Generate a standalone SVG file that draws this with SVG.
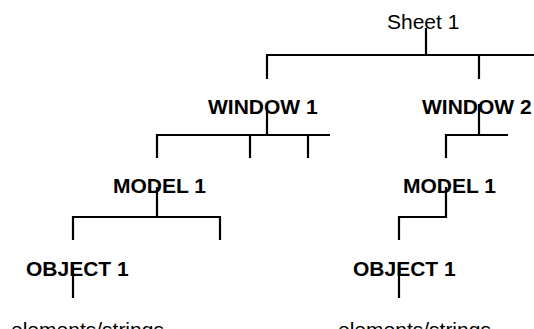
<svg xmlns="http://www.w3.org/2000/svg" width="534" height="329" viewBox="0 0 534 329">
<style>
text{font-family:"Liberation Sans",Arial,sans-serif;font-size:21px;fill:#000}
.b{font-weight:bold}
.c{fill:none;stroke:#000;stroke-width:2.2;stroke-linecap:butt;stroke-linejoin:miter}
</style>
<rect width="534" height="329" fill="#fff"/>
<g id="connectors">
<path class="c" d="M426 28V55M267 79V55H540M479 55V79"/>
<path class="c" d="M267 104V135M157 158V135H330M250 135V158M308 135V158"/>
<path class="c" d="M479 104V135M446 158V135H508"/>
<path class="c" d="M157 187V217M73 240V217H220V240"/>
<path class="c" d="M446 187V217H399V240"/>
<path class="c" d="M73 265V298"/>
<path class="c" d="M399 265V298"/>
</g>
<g id="sheet1"><text x="387" y="29">Sheet 1</text></g>
<g id="window1"><text class="b" x="208" y="114">WINDOW 1</text></g>
<g id="window2"><text class="b" x="422" y="114">WINDOW 2</text></g>
<g id="model1a"><text class="b" x="113" y="193">MODEL 1</text></g>
<g id="model1b"><text class="b" x="403" y="193">MODEL 1</text></g>
<g id="object1a"><text class="b" x="26" y="276">OBJECT 1</text></g>
<g id="object1b"><text class="b" x="353" y="276">OBJECT 1</text></g>
<g id="elements1"><text x="11" y="337">elements/strings</text></g>
<g id="elements2"><text x="338" y="337">elements/strings</text></g>
</svg>
